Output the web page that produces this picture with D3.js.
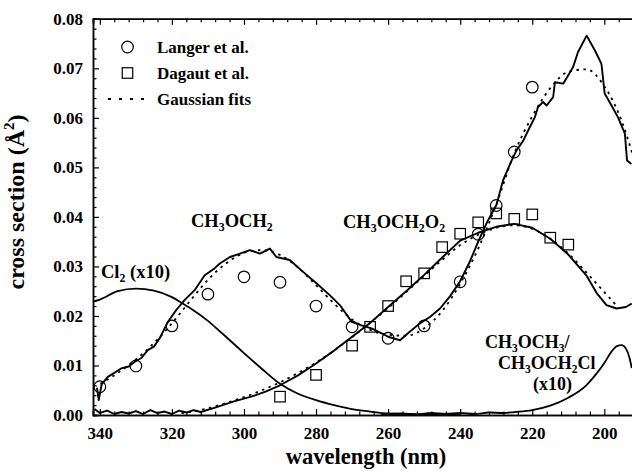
<!DOCTYPE html>
<html>
<head>
<meta charset="utf-8">
<script src="https://cdn.jsdelivr.net/npm/d3@7"></script>
<style>
  html, body { margin: 0; padding: 0; background: #fff; }
  svg { display: block; }
  svg text { font-family: "Liberation Serif", "Times New Roman", Times, serif !important; font-weight: bold; fill: #000; }
</style>
</head>
<body>
<svg id="chart" width="632" height="476" font-family="Liberation Serif, serif"></svg>
<script>
// ---- data: absorption cross sections (Å^2) vs wavelength (nm) ----

// CH3OCH2 measured spectrum
const ch3och2Wl = [340.8, 340.3, 339.5, 337.8, 336.0, 334.1, 332.0, 330.4, 328.5, 326.7, 325.0, 323.4, 321.1, 318.8, 316.5,
  313.7, 310.9, 308.2, 306.7, 303.9, 301.1, 298.4, 295.6, 292.8, 291.0, 287.3, 283.6, 279.9, 276.2, 273.4,
  270.1, 267.4, 264.6, 261.8, 260.0, 256.7, 254.0, 251.2, 248.4, 245.6, 242.9, 240.1, 237.3, 235.0, 232.5,
  229.9, 228.1, 225.7, 224.4, 222.5, 220.7, 219.3, 218.4, 217.0, 216.0, 214.2, 213.7, 211.4, 208.7, 207.3,
  204.9, 202.6, 200.8, 199.9, 198.0, 196.2, 194.3, 193.7, 192.5];
const ch3och2Val = [0.0055, 0.0030, 0.0062, 0.0077, 0.0085, 0.0094, 0.0098, 0.0107, 0.0115, 0.0131, 0.0138, 0.0155, 0.0188, 0.0212, 0.0232,
  0.0252, 0.0282, 0.0296, 0.0306, 0.0319, 0.0326, 0.0333, 0.0326, 0.0336, 0.0319, 0.0313, 0.0289, 0.0266, 0.0242, 0.0222,
  0.0188, 0.0181, 0.0175, 0.0165, 0.0158, 0.0151, 0.0168, 0.0185, 0.0198, 0.0215, 0.0239, 0.0269, 0.0310, 0.0350, 0.0390,
  0.0425, 0.0474, 0.0514, 0.0534, 0.0554, 0.0581, 0.0601, 0.0622, 0.0632, 0.0625, 0.0642, 0.0672, 0.0669, 0.0702, 0.0733,
  0.0766, 0.0736, 0.0709, 0.0649, 0.0625, 0.0601, 0.0568, 0.0514, 0.0507];

// CH3OCH2 Gaussian fit
const ch3och2FitWl = [341, 335, 330, 325, 320, 315, 310, 305, 300, 295, 290, 285, 280, 275, 270, 265, 260, 255, 250, 245,
  240, 235, 230, 225, 220, 215, 210, 205, 200, 195, 192.3];
const ch3och2FitVal = [0.0058, 0.0085, 0.0112, 0.0145, 0.0185, 0.0230, 0.0273, 0.0306, 0.0327, 0.0333, 0.0323, 0.0298, 0.0262, 0.0225, 0.0193,
  0.0172, 0.0162, 0.0160, 0.0175, 0.0210, 0.0265, 0.0336, 0.0425, 0.0528, 0.0603, 0.0660, 0.0693, 0.0698, 0.0664, 0.0590, 0.0530];

// CH3OCH2O2 measured spectrum (noisy baseline below 312 nm)
const ch3och2o2Wl = [341.5, 340, 338, 336, 334, 332, 330, 328, 326, 324, 322, 320, 318, 316, 314, 312,
  308, 303, 298, 294, 290, 285, 280, 275, 270, 265, 260, 255, 250, 245, 240, 235, 230, 225, 220, 215, 210,
  205, 202, 199.4, 196.6, 194, 192.4];
const ch3och2o2Val = [0.0012, 0.0004, 0.0009, 0.0002, 0.0006, 0.0003, 0.0008, 0.0002, 0.0010, 0.0004, 0.0007, 0.0002, 0.0009, 0.0005, 0.0010, 0.0006,
  0.0015, 0.0027, 0.0037, 0.0047, 0.0060, 0.0080, 0.0104, 0.0130, 0.0158, 0.0186, 0.0218, 0.0250, 0.0283, 0.0318, 0.0352, 0.0368, 0.0380, 0.0386, 0.0378, 0.0356, 0.0324,
  0.0282, 0.0245, 0.0222, 0.0215, 0.0218, 0.0225];

// CH3OCH2O2 Gaussian fit
const ch3och2o2FitWl = [318, 312, 306, 300, 295, 290, 285, 280, 275, 270, 265, 260, 255, 250, 245, 240, 235, 230, 225, 220, 215, 210, 205, 200, 197];
const ch3och2o2FitVal = [0.0003, 0.0010, 0.0022, 0.0036, 0.0050, 0.0066, 0.0085, 0.0106, 0.0130, 0.0157, 0.0186, 0.0216, 0.0248, 0.0281, 0.0313, 0.0343, 0.0364, 0.0378, 0.0383, 0.0376, 0.0356, 0.0326, 0.0288, 0.0248, 0.0224];

// Cl2 spectrum, scaled x10
const cl2Wl = [341.9, 340, 335, 330, 325, 320, 317, 315, 310, 307, 305, 300, 295, 290, 285, 280, 275, 270, 265, 260, 255, 250, 240];
const cl2Val = [0.0229, 0.0233, 0.0250, 0.0255, 0.0251, 0.0238, 0.0225, 0.0216, 0.0190, 0.0171, 0.0158, 0.0125, 0.0093, 0.0063, 0.0043, 0.0030, 0.0020, 0.0012, 0.0007, 0.0003, 0.0002, 0.0001, 0.0000];

// CH3OCH3 / CH3OCH2Cl spectrum, scaled x10
const ch3och3Wl = [262, 256, 252, 248, 244, 240, 236, 232, 228, 225, 220, 215, 210, 205, 202, 200, 198, 196.5, 195.2, 194, 193, 192.4];
const ch3och3Val = [0.0000, 0.0003, 0.0001, 0.0004, 0.0002, 0.0004, 0.0002, 0.0005, 0.0004, 0.0006, 0.0010, 0.0019, 0.0035, 0.0060, 0.0085, 0.0105, 0.0128, 0.0139, 0.0141, 0.0134, 0.0115, 0.0095];

// Langer et al. (circles)
const langerWl = [340, 330, 320, 310, 300, 290, 280, 270, 260, 250, 240, 235, 230, 225, 220];
const langerVal = [0.0057, 0.0099, 0.0180, 0.0244, 0.0279, 0.0268, 0.0220, 0.0178, 0.0155, 0.0180, 0.0269, 0.0365, 0.0423, 0.0531, 0.0662];

// Dagaut et al. (squares)
const dagautWl = [290, 280, 270, 265, 260, 255, 250, 245, 240, 235, 230, 225, 220, 215, 210];
const dagautVal = [0.0037, 0.0081, 0.0140, 0.0178, 0.0220, 0.0270, 0.0286, 0.0339, 0.0366, 0.0389, 0.0407, 0.0396, 0.0405, 0.0358, 0.0344];

// axis ticks
const xTicks = [340, 320, 300, 280, 260, 240, 220, 200];
const yTicks = [0.00, 0.01, 0.02, 0.03, 0.04, 0.05, 0.06, 0.07, 0.08];

// ---- layout ----
const svg = d3.select("#chart");
const plotLeft = 93, plotRight = 640, plotTop = 18.8, plotBottom = 415;
const serif = "'Liberation Serif', 'Times New Roman', Times, serif";

const x = d3.scaleLinear().domain([341.9, 190.1]).range([plotLeft, plotRight]);
const y = d3.scaleLinear().domain([0, 0.08]).range([plotBottom, plotTop]);

const xMinor = d3.range(340, 191, -4).filter(v => v % 20 !== 0);
const yMinor = d3.range(0, 0.0801, 0.002).filter((v, i) => i % 5 !== 0);

// axes: inward ticks on all sides
function styleAxis(g) {
  g.attr("font-family", serif);
  g.select(".domain").attr("stroke", "#000").attr("stroke-width", 1.5);
  g.selectAll(".tick line").attr("stroke", "#000").attr("stroke-width", 1.2);
  g.selectAll(".tick text").style("font-size", "17px").style("font-weight", "bold").attr("fill", "#000");
}

svg.append("g").attr("transform", `translate(0,${plotBottom})`)
  .call(d3.axisBottom(x).tickValues(xTicks).tickSize(-6).tickPadding(12).tickFormat(d3.format("d")))
  .call(styleAxis);
svg.append("g").attr("transform", `translate(0,${plotBottom})`)
  .call(d3.axisBottom(x).tickValues(xMinor).tickSize(-3.5).tickFormat(""))
  .call(styleAxis);
svg.append("g").attr("transform", `translate(0,${plotTop})`)
  .call(d3.axisTop(x).tickValues(xTicks).tickSize(-6).tickFormat(""))
  .call(styleAxis);
svg.append("g").attr("transform", `translate(0,${plotTop})`)
  .call(d3.axisTop(x).tickValues(xMinor).tickSize(-3.5).tickFormat(""))
  .call(styleAxis);
svg.append("g").attr("transform", `translate(${plotLeft},0)`)
  .call(d3.axisLeft(y).tickValues(yTicks).tickSize(-6).tickPadding(10).tickFormat(d3.format(".2f")))
  .call(styleAxis);
svg.append("g").attr("transform", `translate(${plotLeft},0)`)
  .call(d3.axisLeft(y).tickValues(yMinor).tickSize(-3.5).tickFormat(""))
  .call(styleAxis);

// clip the plotting area
svg.append("clipPath").attr("id", "plot-clip")
  .append("rect").attr("x", plotLeft).attr("y", plotTop).attr("width", plotRight - plotLeft).attr("height", plotBottom - plotTop + 1);
const plot = svg.append("g").attr("clip-path", "url(#plot-clip)");

const pairs = (wl, v) => wl.map((w, i) => [w, v[i]]);
const lineLin = d3.line().x(d => x(d[0])).y(d => y(d[1]));
const lineSmooth = d3.line().x(d => x(d[0])).y(d => y(d[1])).curve(d3.curveMonotoneX);

// Gaussian fits (dotted)
[[ch3och2FitWl, ch3och2FitVal], [ch3och2o2FitWl, ch3och2o2FitVal]].forEach(([wl, v]) => {
  plot.append("path").datum(pairs(wl, v).reverse())
    .attr("d", lineSmooth)
    .attr("fill", "none").attr("stroke", "#000").attr("stroke-width", 1.8)
    .attr("stroke-dasharray", "2.5,4.5");
});

// smooth reference spectra
[[cl2Wl, cl2Val], [ch3och3Wl, ch3och3Val]].forEach(([wl, v]) => {
  plot.append("path").datum(pairs(wl, v).reverse())
    .attr("d", lineSmooth)
    .attr("fill", "none").attr("stroke", "#000").attr("stroke-width", 1.8);
});

// measured spectra (solid, noisy)
[[ch3och2Wl, ch3och2Val], [ch3och2o2Wl, ch3och2o2Val]].forEach(([wl, v]) => {
  plot.append("path").datum(pairs(wl, v))
    .attr("d", lineLin)
    .attr("fill", "none").attr("stroke", "#000").attr("stroke-width", 1.9)
    .attr("stroke-linejoin", "round");
});

// literature data points
plot.selectAll("circle.langer").data(pairs(langerWl, langerVal)).join("circle")
  .attr("class", "langer")
  .attr("cx", d => x(d[0])).attr("cy", d => y(d[1])).attr("r", 5.8)
  .attr("fill", "none").attr("stroke", "#000").attr("stroke-width", 1.2);

const sq = 10.5;
plot.selectAll("rect.dagaut").data(pairs(dagautWl, dagautVal)).join("rect")
  .attr("class", "dagaut")
  .attr("x", d => x(d[0]) - sq / 2).attr("y", d => y(d[1]) - sq / 2)
  .attr("width", sq).attr("height", sq)
  .attr("fill", "none").attr("stroke", "#000").attr("stroke-width", 1.2);

// ---- legend ----
const legend = svg.append("g");
legend.append("circle").attr("cx", 127.5).attr("cy", 47).attr("r", 5.8)
  .attr("fill", "none").attr("stroke", "#000").attr("stroke-width", 1.2);
legend.append("rect").attr("x", 127.5 - sq / 2).attr("y", 73 - sq / 2).attr("width", sq).attr("height", sq)
  .attr("fill", "none").attr("stroke", "#000").attr("stroke-width", 1.2);
legend.append("line").attr("x1", 108).attr("x2", 147).attr("y1", 99).attr("y2", 99)
  .attr("stroke", "#000").attr("stroke-width", 2).attr("stroke-dasharray", "3,8");
[["Langer et al.", 53], ["Dagaut et al.", 79], ["Gaussian fits", 105]].forEach(([t, yy]) => {
  legend.append("text").attr("x", 157).attr("y", yy).attr("font-family", serif)
    .style("font-size", "17px").text(t);
});

// ---- labels with chemical subscripts (digits after "_" are lowered) ----
function formula(xx, yy, str, size) {
  const t = svg.append("text").attr("x", xx).attr("y", yy).attr("font-family", serif)
    .style("font-size", size + "px");
  const parts = str.split(/(_\d)/).filter(s => s.length);
  let lowered = false;
  parts.forEach(p => {
    if (p.startsWith("_")) {
      t.append("tspan").attr("dy", lowered ? 0 : 3.5).style("font-size", (size * 0.64) + "px").text(p.slice(1));
      lowered = true;
    } else {
      t.append("tspan").attr("dy", lowered ? -3.5 : 0).text(p);
      lowered = false;
    }
  });
  return t;
}

formula(191, 227, "CH_3OCH_2", 18.5);
formula(101, 278, "Cl_2 (x10)", 18.5);
formula(343, 228, "CH_3OCH_2O_2", 18.5);
formula(485, 348, "CH_3OCH_3/", 18);
formula(498, 369, "CH_3OCH_2Cl", 18);
formula(533, 390, "(x10)", 18);

// axis titles
svg.append("text").attr("x", 366).attr("y", 464).attr("text-anchor", "middle")
  .attr("font-family", serif).style("font-size", "22.5px").text("wavelength (nm)");

const yt = svg.append("text").attr("transform", "translate(24,202) rotate(-90)")
  .attr("text-anchor", "middle").attr("font-family", serif).style("font-size", "24px");
yt.append("tspan").text("cross section (Å");
yt.append("tspan").attr("dy", -10).style("font-size", "15px").text("2");
yt.append("tspan").attr("dy", 10).text(")");
</script>
</body>
</html>
